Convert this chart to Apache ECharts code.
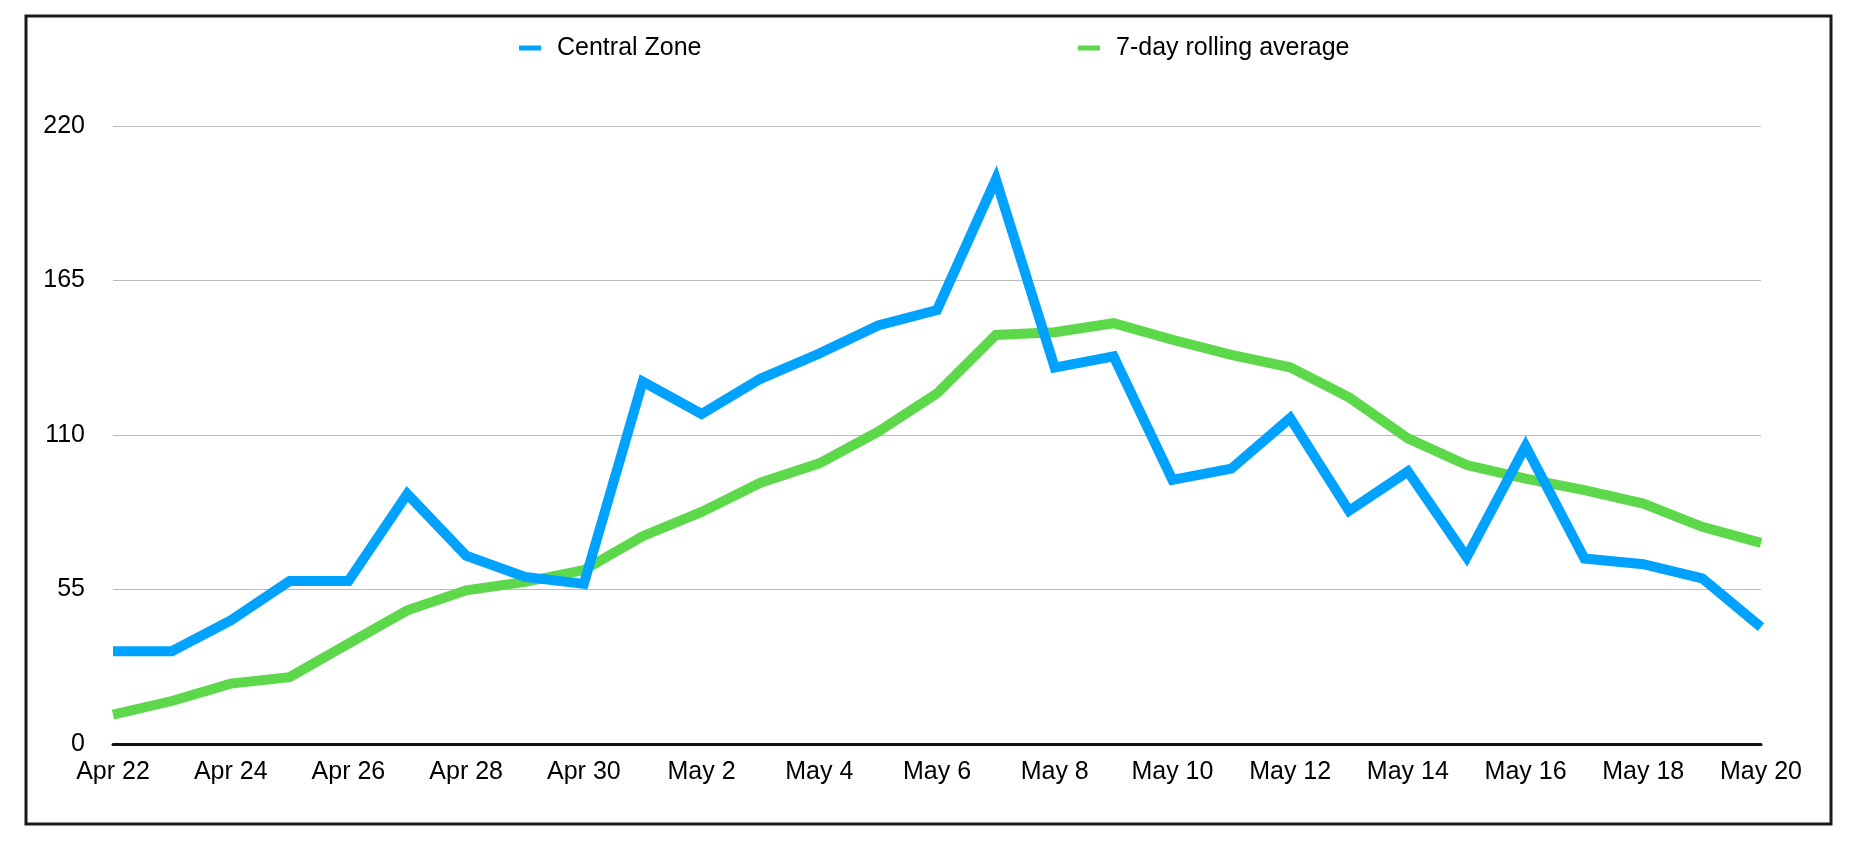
<!DOCTYPE html>
<html>
<head>
<meta charset="utf-8">
<script src="https://cdn.jsdelivr.net/npm/echarts@6/dist/echarts.min.js"></script>
<style>
html,body{margin:0;padding:0;background:#fff;}
#chart{width:1860px;height:844px;}
</style>
</head>
<body>
<div id="chart"></div>
<script>
var categories = ["Apr 22","Apr 23","Apr 24","Apr 25","Apr 26","Apr 27","Apr 28","Apr 29","Apr 30",
  "May 1","May 2","May 3","May 4","May 5","May 6","May 7","May 8","May 9","May 10",
  "May 11","May 12","May 13","May 14","May 15","May 16","May 17","May 18","May 19","May 20"];
var centralZone = [33, 33, 44, 58, 58, 89, 67, 59.5, 57, 129, 117.5, 130, 139, 149, 154.5, 201, 134, 138, 94, 98, 116, 83, 97, 66.5, 106, 66, 64, 59, 41.6];
var rollingAvg = [10.5, 15.3, 21.5, 23.8, 35.7, 47.6, 54.7, 57.7, 61.9, 74, 82.6, 93, 99.9, 111.2, 124.8, 145.6, 146.6, 149.8, 143.9, 138.5, 134.1, 123.4, 108.8, 99.3, 94.5, 90.4, 85.6, 77.3, 71.6];
var yTicks = {min: 0, max: 220, interval: 55};

var FONT = '"Liberation Sans", Helvetica, Arial, sans-serif';
var BLUE = '#00A2FF';
var GREEN = '#5DD84B';

var chart = echarts.init(document.getElementById('chart'), null, {renderer: 'canvas'});
var legendCommon = {
  top: 35, padding: 0, icon: 'rect', itemWidth: 22, itemHeight: 5,
  selectedMode: false,
  textStyle: {fontFamily: FONT, fontSize: 25, color: '#000', lineHeight: 26, padding: [0, 0, 0, 11]}
};
chart.setOption({
  animation: false,
  backgroundColor: '#fff',
  graphic: [{
    type: 'rect', z: 100, silent: true,
    shape: {x: 26, y: 16, width: 1805, height: 808},
    style: {fill: 'none', stroke: '#1a1a1a', lineWidth: 3}
  }],
  legend: [
    Object.assign({}, legendCommon, {left: 519, data: ['Central Zone']}),
    Object.assign({}, legendCommon, {left: 1078, data: ['7-day rolling average']})
  ],
  grid: {left: 113, right: 99, top: 126, bottom: 100, containLabel: false},
  xAxis: {
    type: 'category', data: categories, boundaryGap: false,
    axisLine: {show: true, lineStyle: {color: '#111', width: 3}},
    axisTick: {show: false},
    axisLabel: {interval: 1, margin: 16, fontFamily: FONT, fontSize: 25, color: '#000'},
    splitLine: {show: false}
  },
  yAxis: {
    type: 'value', min: yTicks.min, max: yTicks.max, interval: yTicks.interval,
    axisLine: {show: false}, axisTick: {show: false},
    axisLabel: {margin: 28, fontFamily: FONT, fontSize: 25, color: '#000'},
    splitLine: {lineStyle: {color: '#bcbcbc', width: 1}}
  },
  series: [
    {name: 'Central Zone', type: 'line', data: centralZone, z: 4, symbol: 'none', smooth: false,
     color: BLUE, lineStyle: {color: BLUE, width: 10, join: 'miter', miterLimit: 10, cap: 'butt'}},
    {name: '7-day rolling average', type: 'line', data: rollingAvg, z: 3, symbol: 'none', smooth: false,
     color: GREEN, lineStyle: {color: GREEN, width: 10, join: 'miter', miterLimit: 10, cap: 'butt'}}
  ]
});
</script>
</body>
</html>
